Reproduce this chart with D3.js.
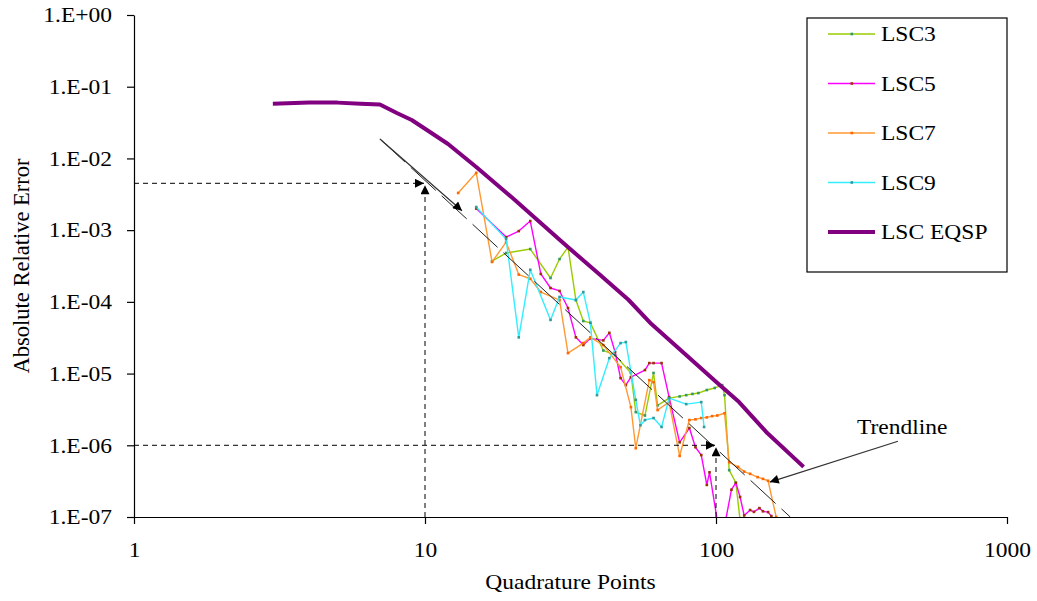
<!DOCTYPE html>
<html>
<head>
<meta charset="utf-8">
<script src="https://cdn.jsdelivr.net/npm/d3@7"></script>
<style>
body { margin: 0; background: #fff; }
text { font-family: "Liberation Serif", "Times New Roman", serif; fill: #000; }
</style>
</head>
<body>
<script>
// Chart data
var seriesNames = ["LSC3", "LSC5", "LSC7", "LSC9", "LSC EQSP"];

var lsc3N = [17, 19, 23, 27, 29, 31, 33, 35, 37, 41, 45, 51, 53, 57, 61, 63, 69, 75, 79, 83, 87, 93, 99, 105, 107, 111, 117, 121];
var lsc3Err = [3.7e-4, 4.8e-4, 5.45e-4, 2.15e-4, 3.95e-4, 5.8e-4, 1.06e-4, 5.4e-5, 5.1e-5, 2.1e-5, 1.81e-5, 1.02e-5, 2.9e-6, 2.6e-6, 1.02e-5, 3.6e-6, 4.55e-6, 4.8e-6, 5.0e-6, 5.2e-6, 5.35e-6, 5.9e-6, 6.3e-6, 6.9e-6, 5.0e-6, 4.5e-7, 3.0e-7, 9e-8];

var lsc5N = [15, 19, 21, 23, 25, 27, 29, 31, 33, 35, 37, 41, 43, 45, 47, 49, 51, 57, 59, 61, 65, 69, 75, 81, 85, 89, 93, 95, 101, 105, 113, 117, 121, 125, 131, 135, 141, 145, 151, 155];
var lsc5Err = [2.0e-3, 8.0e-4, 9.7e-4, 1.34e-3, 2.45e-4, 1.56e-4, 1.42e-4, 8.2e-5, 3.2e-5, 2.5e-5, 3.1e-5, 2.9e-5, 3.7e-5, 2.0e-5, 8.65e-6, 6.9e-6, 8.9e-6, 1.12e-5, 1.4e-5, 1.4e-5, 1.4e-5, 4.7e-6, 1.1e-6, 1.74e-6, 9.4e-7, 7.3e-7, 2.8e-7, 4.2e-7, 9.0e-8, 5e-8, 2.4e-7, 3.0e-7, 1.9e-7, 1.05e-7, 1.25e-7, 1.18e-7, 1.33e-7, 1.2e-7, 1.17e-7, 1.03e-7];

var lsc7N = [13, 15, 17, 19, 21, 23, 25, 29, 31, 35, 37, 41, 47, 51, 53, 59, 61, 63, 69, 75, 81, 85, 89, 93, 97, 101, 107, 111, 119, 125, 131, 139, 145, 151, 161, 171];
var lsc7Err = [3.3e-3, 6.3e-3, 3.6e-4, 6.8e-4, 2.4e-4, 2.1e-4, 1.37e-4, 1.06e-4, 1.93e-5, 2.66e-5, 3.2e-5, 2.5e-5, 1.23e-5, 3.4e-6, 9.1e-7, 8.1e-6, 7.6e-6, 3.1e-6, 4.0e-6, 7.1e-7, 2.25e-6, 2.3e-6, 2.4e-6, 2.45e-6, 2.55e-6, 2.6e-6, 2.8e-6, 5.8e-7, 5.0e-7, 4.3e-7, 4.0e-7, 3.6e-7, 3.4e-7, 3.2e-7, 1.0e-7, 5e-8];

var lsc9N = [15, 19, 21, 23, 27, 29, 33, 35, 37, 39, 43, 47, 49, 53, 55, 57, 61, 65, 69, 79, 89, 91];
var lsc9Err = [2.1e-3, 7.5e-4, 3.2e-5, 2.8e-4, 5.6e-5, 1.17e-4, 1.06e-4, 1.37e-4, 5.1e-5, 5.0e-6, 1.64e-5, 2.66e-5, 2.75e-5, 4.3e-6, 1.9e-6, 2.25e-6, 2.4e-6, 1.8e-6, 4.55e-6, 3.75e-6, 4.0e-6, 1.8e-6];

var eqspN = [3, 4, 5, 6, 7, 8, 9, 10, 12, 15, 20, 30, 40, 50, 60, 80, 100, 120, 150, 200];
var eqspErr = [0.058, 0.060, 0.060, 0.058, 0.0565, 0.043, 0.0343, 0.0259, 0.0159, 0.0076, 0.0028, 6.5e-4, 2.37e-4, 1.07e-4, 4.9e-5, 1.73e-5, 7.7e-6, 4.0e-6, 1.48e-6, 5.0e-7];

// trendline end points and the annotation points on it
var trendN = [7, 180];
var trendErr = [1.87e-2, 1.0e-7];
var markN = [10, 100];
var markErr = [4.5e-3, 1.0e-6];
var trendArrowN = [7, 13.4];
var trendArrowErr = [1.87e-2, 1.86e-3];
var labelArrowN = [422, 153];
var labelArrowErr = [1.14e-6, 3.07e-7];
var labelN = 305, labelErr = 1.43e-6;

var xTicks = [1, 10, 100, 1000];
var xTickLabels = ["1", "10", "100", "1000"];
var yTicks = [1, 1e-1, 1e-2, 1e-3, 1e-4, 1e-5, 1e-6, 1e-7];
var yTickLabels = ["1.E+00", "1.E-01", "1.E-02", "1.E-03", "1.E-04", "1.E-05", "1.E-06", "1.E-07"];

// styles
var lineColors = ["#99CC00", "#FF00FF", "#FF9933", "#33EEFF", "#800080"];
var dotColors = ["#339966", "#993300", "#FF6600", "#339999", null];
var fontSize = 21;
var stretch = 1.12; // text in the picture is a little wide

var width = 1037, height = 601;
var margin = { top: 15, right: 30, bottom: 84, left: 134 };

var svg = d3.select("body").append("svg")
	.attr("width", width)
	.attr("height", height);

var x = d3.scaleLog().domain([1, 1000]).range([margin.left, width - margin.right]);
var y = d3.scaleLog().domain([1e-7, 1]).range([height - margin.bottom, margin.top]);

function pairs(a, b) { return a.map(function(d, i) { return [d, b[i]]; }); }

var series = [pairs(lsc3N, lsc3Err), pairs(lsc5N, lsc5Err), pairs(lsc7N, lsc7Err), pairs(lsc9N, lsc9Err), pairs(eqspN, eqspErr)];

// arrow head
var defs = svg.append("defs");
defs.append("marker")
	.attr("id", "head")
	.attr("viewBox", "0 0 10 10")
	.attr("refX", 10).attr("refY", 5)
	.attr("markerWidth", 11).attr("markerHeight", 9)
	.attr("markerUnits", "userSpaceOnUse")
	.attr("orient", "auto")
	.append("path").attr("d", "M0,0L10,5L0,10z").attr("fill", "#000");

defs.append("clipPath").attr("id", "plot")
	.append("rect")
	.attr("x", x(1)).attr("y", y(1))
	.attr("width", x(1000) - x(1)).attr("height", y(1e-7) - y(1));

var line = d3.line()
	.x(function(d) { return x(d[0]); })
	.y(function(d) { return y(d[1]); });

var plot = svg.append("g").attr("clip-path", "url(#plot)");

// data series
series.forEach(function(s, i) {
	plot.append("path")
		.datum(s)
		.attr("fill", "none")
		.attr("stroke", lineColors[i])
		.attr("stroke-width", i === 4 ? 4 : 1.4)
		.attr("stroke-linejoin", "round")
		.attr("d", line);
	if (dotColors[i]) {
		plot.selectAll(".dot" + i)
			.data(s)
			.enter().append("rect")
			.attr("class", "dot" + i)
			.attr("x", function(d) { return x(d[0]) - 1.3; })
			.attr("y", function(d) { return y(d[1]) - 1.3; })
			.attr("width", 2.6).attr("height", 2.6)
			.attr("fill", dotColors[i]);
	}
});

// trendline (long dash)
plot.append("path")
	.datum(pairs(trendN, trendErr))
	.attr("fill", "none")
	.attr("stroke", "#222")
	.attr("stroke-width", 1)
	.attr("stroke-dasharray", "34,8")
	.attr("d", line);

// solid arrow on the start of the trendline
svg.append("path")
	.datum(pairs(trendArrowN, trendArrowErr))
	.attr("fill", "none").attr("stroke", "#333").attr("stroke-width", 1.2)
	.attr("marker-end", "url(#head)")
	.attr("d", line);

// dashed guides pointing at the trendline at n = 10 and n = 100
markN.forEach(function(n, i) {
	svg.append("line")
		.attr("x1", x(1)).attr("x2", x(n) - 1)
		.attr("y1", y(markErr[i])).attr("y2", y(markErr[i]))
		.attr("stroke", "#000").attr("stroke-dasharray", "5,4")
		.attr("marker-end", "url(#head)");
	svg.append("line")
		.attr("x1", x(n)).attr("x2", x(n))
		.attr("y1", y(1e-7)).attr("y2", y(markErr[i]) + 2)
		.attr("stroke", "#000").attr("stroke-dasharray", "5,4")
		.attr("marker-end", "url(#head)");
});

// Trendline label and its arrow
svg.append("path")
	.datum(pairs(labelArrowN, labelArrowErr))
	.attr("fill", "none").attr("stroke", "#333").attr("stroke-width", 1.2)
	.attr("marker-end", "url(#head)")
	.attr("d", line);

svg.append("text")
	.attr("transform", "translate(" + x(labelN) + "," + y(labelErr) + ") scale(" + stretch + ",1)")
	.attr("font-size", fontSize)
	.text("Trendline");

// axes
var yAxis = d3.axisLeft(y)
	.tickValues(yTicks)
	.tickFormat(function(d, i) { return yTickLabels[i]; })
	.tickSize(7)
	.tickSizeOuter(0);

var xAxis = d3.axisBottom(x)
	.tickValues(xTicks)
	.tickFormat(function(d, i) { return xTickLabels[i]; })
	.tickSize(7)
	.tickPadding(18)
	.tickSizeOuter(0);

var gy = svg.append("g")
	.attr("transform", "translate(" + x(1) + ",0)")
	.call(yAxis);
gy.selectAll("text")
	.attr("x", -22 / stretch)
	.attr("transform", "scale(" + stretch + ",1)");

var gx = svg.append("g")
	.attr("transform", "translate(0," + y(1e-7) + ")")
	.call(xAxis);
gx.selectAll("text")
	.attr("transform", "scale(" + stretch + ",1)");

[gx, gy].forEach(function(g) {
	g.attr("font-size", fontSize)
		.attr("font-family", "'Liberation Serif', 'Times New Roman', serif");
	g.selectAll("text").attr("fill", "#000");
	g.selectAll("line, path").attr("stroke", "#000").attr("stroke-width", 1.2);
});

// axis titles
svg.append("text")
	.attr("transform", "translate(" + (x(1) + x(1000)) / 2 + ",589) scale(" + stretch + ",1)")
	.attr("text-anchor", "middle")
	.attr("font-size", fontSize)
	.text("Quadrature Points");

svg.append("text")
	.attr("transform", "translate(29," + (y(1) + y(1e-7)) / 2 + ") rotate(-90)")
	.attr("text-anchor", "middle")
	.attr("font-size", 22.5)
	.text("Absolute Relative Error");

// legend
var legend = svg.append("g").attr("transform", "translate(807,18)");
legend.append("rect")
	.attr("width", 200).attr("height", 254)
	.attr("fill", "#fff").attr("stroke", "#000").attr("stroke-width", 1.2);

var item = legend.selectAll(".item")
	.data(seriesNames)
	.enter().append("g")
	.attr("class", "item")
	.attr("transform", function(d, i) { return "translate(0," + (16 + i * 49.5) + ")"; });

item.append("line")
	.attr("x1", 21).attr("x2", 68)
	.attr("stroke", function(d, i) { return lineColors[i]; })
	.attr("stroke-width", function(d, i) { return i === 4 ? 4 : 1.4; });

item.filter(function(d, i) { return dotColors[i]; })
	.append("rect")
	.attr("x", 43.5).attr("y", -1.3)
	.attr("width", 2.6).attr("height", 2.6)
	.attr("fill", function(d) { return dotColors[seriesNames.indexOf(d)]; });

item.append("text")
	.attr("transform", "translate(74,7) scale(" + stretch + ",1)")
	.attr("font-size", fontSize)
	.text(function(d) { return d; });
</script>
</body>
</html>
